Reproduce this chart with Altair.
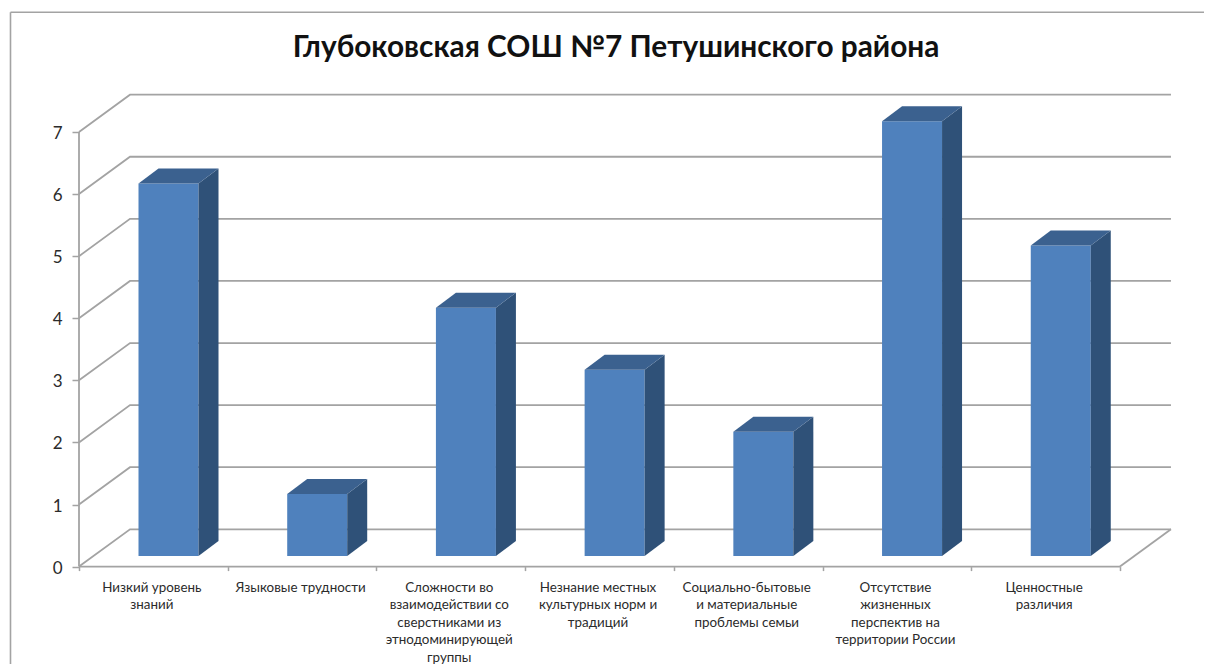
import altair as alt
import pandas as pd

title_text = "Глубоковская СОШ №7 Петушинского района"
categories = [
    "Низкий уровень\nзнаний",
    "Языковые  трудности",
    "Сложности во\nвзаимодействии со\nсверстниками из\nэтнодоминирующей\nгруппы",
    "Незнание местных\nкультурных норм и\nтрадиций",
    "Социально-бытовые\nи материальные\nпроблемы семьи",
    "Отсутствие\nжизненных\nперспектив на\nтерритории России",
    "Ценностные\nразличия",
]
values = [6, 1, 4, 3, 2, 7, 5]
y_ticks = [0, 1, 2, 3, 4, 5, 6, 7]
x_ticks = [0, 1, 2, 3, 4, 5, 6, 7]

W, H = 1196, 656
AX, AY0 = 71.0, 558.6
SX, SY = 148.71, 62.09
x_dom = [-AX / SX, (W - AX) / SX]
y_dom = [-(H - AY0) / SY, AY0 / SY]

WALL_DX, WALL_DY = 51 / SX, 37.3 / SY
BAR_L, BAR_R = 59.5 / SX, 119.5 / SX
BAR_DX, BAR_DY = 20 / SX, 15 / SY
BASE = 10.6 / SY

GRID = "#a3a3a3"
FRONT, SIDE, TOP = "#4f81bd", "#2f5178", "#3b618f"
TEXT = "#2b2b2b"
FONT = "Lato"

xs = alt.Scale(domain=x_dom, range=[0, W], nice=False, zero=False)
ys = alt.Scale(domain=y_dom, range=[H, 0], nice=False, zero=False)

x_axis_def = alt.Axis(
    values=x_ticks, offset=-(H - AY0), domain=False, grid=False, tickColor=GRID,
    tickWidth=1.5, tickSize=4, labels=False, title=None,
)
y_axis_def = alt.Axis(
    values=y_ticks, offset=-AX, domain=False, grid=False, tickColor=GRID,
    tickWidth=1.5, tickSize=7, labelFont=FONT, labelFontSize=17, labelOffset=1.5,
    labelColor=TEXT, labelPadding=10, format="d", title=None,
)


def X(f="x"):
    return alt.X(f"{f}:Q", scale=xs, axis=x_axis_def, stack=None)


def Y(f="y"):
    return alt.Y(f"{f}:Q", scale=ys, axis=y_axis_def, stack=None)


# gridlines: front edge -> back wall -> right end
grid_rows = []
for v in y_ticks:
    grid_rows += [
        {"s": v, "o": 0, "x": 0, "y": v},
        {"s": v, "o": 1, "x": WALL_DX, "y": v + WALL_DY},
        {"s": v, "o": 2, "x": 7 + WALL_DX, "y": v + WALL_DY},
    ]
grid_rows += [
    {"s": 100, "o": 0, "x": 7, "y": 0},
    {"s": 100, "o": 1, "x": 7 + WALL_DX, "y": WALL_DY},
    {"s": 101, "o": 0, "x": 0, "y": 0},
    {"s": 101, "o": 1, "x": 7, "y": 0},
    {"s": 102, "o": 0, "x": 0, "y": 0},
    {"s": 102, "o": 1, "x": 0, "y": 7},
]
grid = (
    alt.Chart(pd.DataFrame(grid_rows))
    .mark_line(color=GRID, strokeWidth=1.8)
    .encode(x=X(), y=Y(), detail="s:N", order="o:Q")
)

# bars
n = range(len(values))
front_df = pd.DataFrame({
    "x": [i + BAR_L for i in n], "x2": [i + BAR_R for i in n],
    "y": [BASE] * len(values), "y2": [BASE + v for v in values],
})
front = alt.Chart(front_df).mark_rect(color=FRONT).encode(x=X(), x2="x2:Q", y=Y(), y2="y2:Q")

side_rows, top_rows = [], []
for i, v in zip(n, values):
    r = i + BAR_R
    l = i + BAR_L
    t = BASE + v
    side_rows += [
        {"b": i, "x": r, "y": BASE, "y2": t},
        {"b": i, "x": r + BAR_DX, "y": BASE + BAR_DY, "y2": t + BAR_DY},
    ]
    top_rows += [
        {"b": i, "y": t, "x": l, "x2": r},
        {"b": i, "y": t + BAR_DY, "x": l + BAR_DX, "x2": r + BAR_DX},
    ]
side = (
    alt.Chart(pd.DataFrame(side_rows))
    .mark_area(color=SIDE, orient="vertical", opacity=1)
    .encode(x=X(), y=Y(), y2="y2:Q", detail="b:N")
)
top = (
    alt.Chart(pd.DataFrame(top_rows))
    .mark_area(color=TOP, orient="horizontal", opacity=1)
    .encode(y=Y(), x=X(), x2="x2:Q", detail="b:N")
)

# category labels
label_df = pd.DataFrame({"label": categories, "x": [i + 0.49 for i in n]})
labels = (
    alt.Chart(label_df)
    .mark_text(font=FONT, fontSize=13.4, color=TEXT, lineBreak="\n", lineHeight=17.6,
               baseline="top", align="center")
    .encode(x=X(), y=alt.value(572.5), text="label:N")
)

# outer frame
frame_df = pd.DataFrame({"x": [0], "y": [0]})
frame_top = alt.Chart(frame_df).mark_rule(color=GRID, strokeWidth=1.6).encode(
    x=alt.value(2.5), x2=alt.value(W), y=alt.value(4.3))
frame_left = alt.Chart(frame_df).mark_rule(color=GRID, strokeWidth=1.6).encode(
    x=alt.value(2.5), y=alt.value(4.3), y2=alt.value(H))

chart = (
    alt.layer(frame_top, frame_left, grid, front, side, top, labels)
    .properties(
        width=W, height=H, padding=0,
        autosize=alt.AutoSizeParams(type="none"),
        background="#ffffff",
        title=alt.TitleParams(
            title_text, font=FONT, fontSize=29.8, fontWeight="bold", color="#111111",
            anchor="middle", dx=10, dy=59,
        ),
    )
    .configure_view(stroke=None)
)
chart.save("out.html", embed_options={"renderer": "svg", "actions": False})
